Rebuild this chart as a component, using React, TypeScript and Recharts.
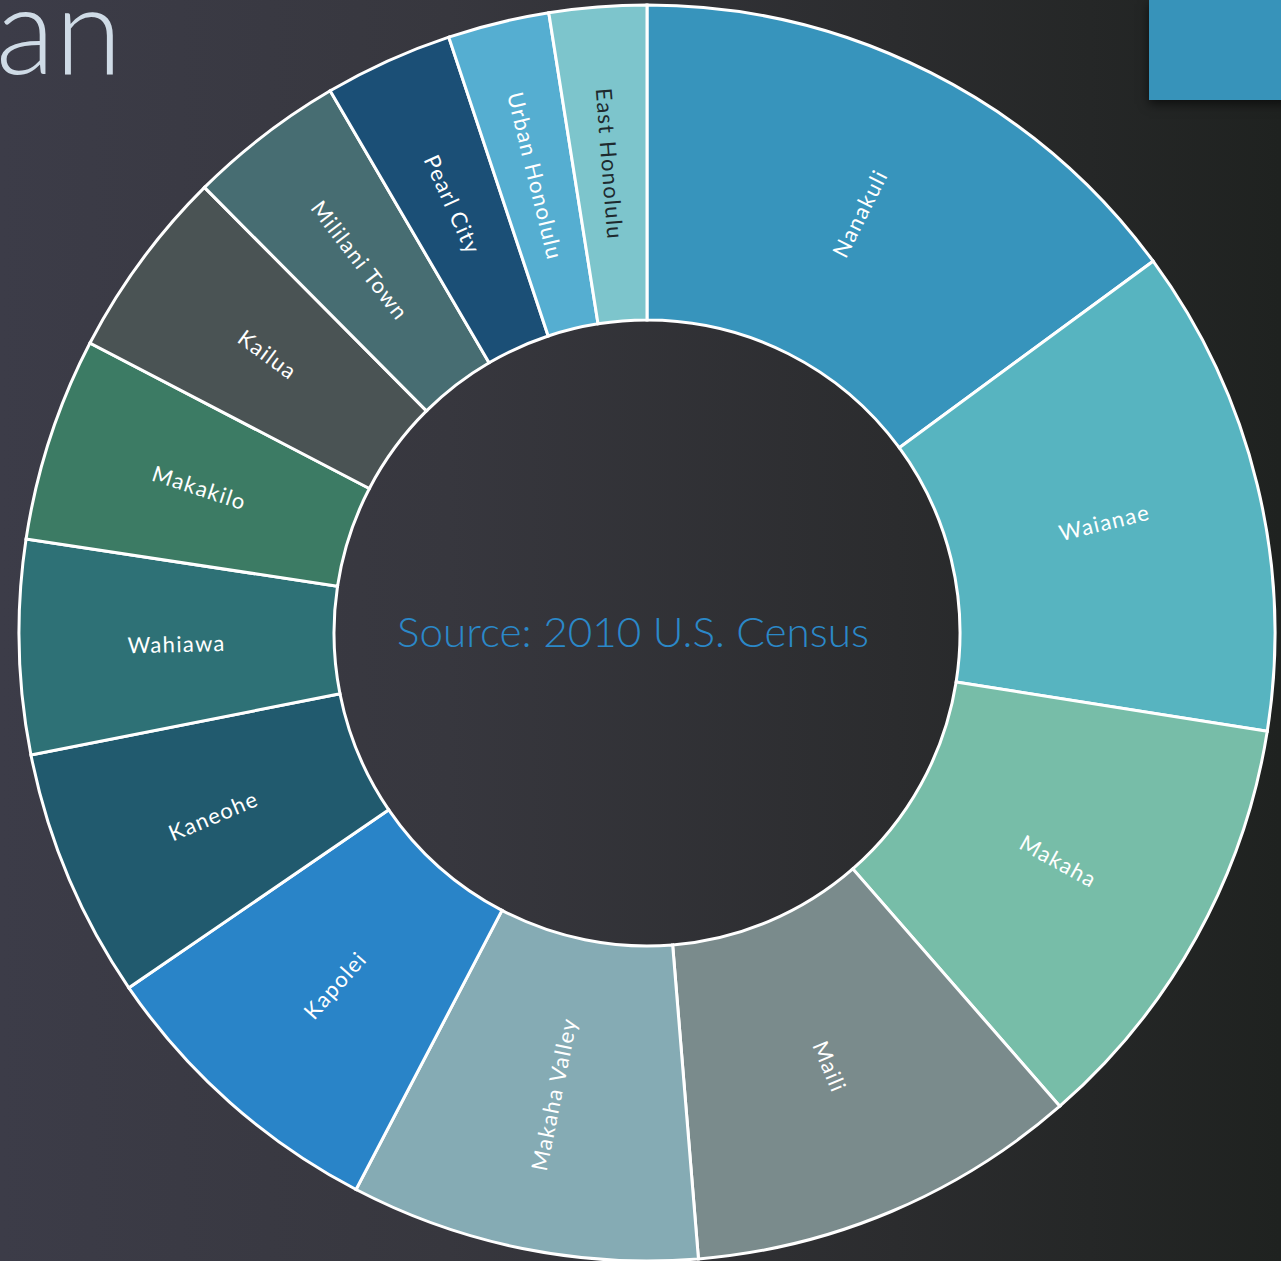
import { PieChart, Pie, Cell } from "recharts";

const districts = [
  "Nanakuli",
  "Waianae",
  "Makaha",
  "Maili",
  "Makaha Valley",
  "Kapolei",
  "Kaneohe",
  "Wahiawa",
  "Makakilo",
  "Kailua",
  "Mililani Town",
  "Pearl City",
  "Urban Honolulu",
  "East Honolulu",
];

const shares = [53.7, 45.3, 39.9, 36.4, 32.3, 28.0, 23.2, 19.8, 18.9, 17.7, 14.5, 11.9, 9.4, 9.0];

const COLORS = [
  "#3794BC",
  "#57B4C0",
  "#77BDA8",
  "#7A8B8C",
  "#85ABB4",
  "#2984C8",
  "#215A6E",
  "#2E7176",
  "#3C7B64",
  "#4A5354",
  "#476D72",
  "#1B4F76",
  "#55AED1",
  "#7DC5CC",
];

const LABEL_COLORS = districts.map((d) => (d === "East Honolulu" ? "#1E2A2E" : "#FFFFFF"));

const data = districts.map((name, i) => ({ name, value: shares[i] }));

const FONT = "'Century Gothic', Lato, 'Open Sans', sans-serif";
const RADIAN = Math.PI / 180;

const renderLabel = (props: any) => {
  const { cx, cy, midAngle, innerRadius, outerRadius, name, index } = props;
  const r = (innerRadius + outerRadius) / 2;
  const x = cx + r * Math.cos(-midAngle * RADIAN);
  const y = cy + r * Math.sin(-midAngle * RADIAN);
  const theta = (90 - midAngle + 720) % 360;
  const rot = theta < 180 ? theta - 90 : theta - 270;
  return (
    <text
      x={x}
      y={y}
      fill={LABEL_COLORS[index]}
      fontSize={22}
      fontWeight={400}
      letterSpacing={1.3}
      fontFamily={FONT}
      textAnchor="middle"
      dominantBaseline="central"
      transform={`rotate(${rot}, ${x}, ${y})`}
    >
      {name}
    </text>
  );
};

export default function App() {
  return (
    <div
      style={{
        position: "fixed",
        top: 0,
        left: 0,
        width: 1281,
        height: 1261,
        overflow: "hidden",
        background: "linear-gradient(90deg, #3c3c48 0%, #37373e 35%, #2b2c2e 70%, #1f2220 100%)",
      }}
    >
      <svg width={1281} height={1261} style={{ position: "absolute", left: 0, top: 0 }}>
        <text x={122} y={74} textAnchor="end" fontFamily={FONT} fontWeight={300} fontSize={122} fill="#CFDBE6">
          ian
        </text>
      </svg>
      <div
        style={{
          position: "absolute",
          left: 1149,
          top: 0,
          width: 140,
          height: 100,
          background: "#3793BA",
          boxShadow: "0 4px 10px rgba(0,0,0,0.6)",
        }}
      />
      <div style={{ position: "absolute", left: 0, top: 0 }}>
        <PieChart width={1281} height={1261} margin={{ top: 0, right: 0, bottom: 0, left: 0 }}>
          <Pie
            data={data}
            dataKey="value"
            nameKey="name"
            cx={647}
            cy={633}
            innerRadius={313}
            outerRadius={628}
            startAngle={90}
            endAngle={-270}
            stroke="#FFFFFF"
            strokeWidth={3}
            label={renderLabel}
            labelLine={false}
            isAnimationActive={false}
          >
            {data.map((entry, index) => (
              <Cell key={`cell-${index}`} fill={COLORS[index]} />
            ))}
          </Pie>
        </PieChart>
      </div>
      <svg width={1281} height={1261} style={{ position: "absolute", left: 0, top: 0, pointerEvents: "none" }}>
        <text
          x={633}
          y={631}
          fill="#2B88C8"
          fontSize={41}
          fontWeight={300}
          fontFamily={FONT}
          textAnchor="middle"
          dominantBaseline="central"
          textLength={472}
          lengthAdjust="spacingAndGlyphs"
        >
          Source: 2010 U.S. Census
        </text>
      </svg>
    </div>
  );
}
